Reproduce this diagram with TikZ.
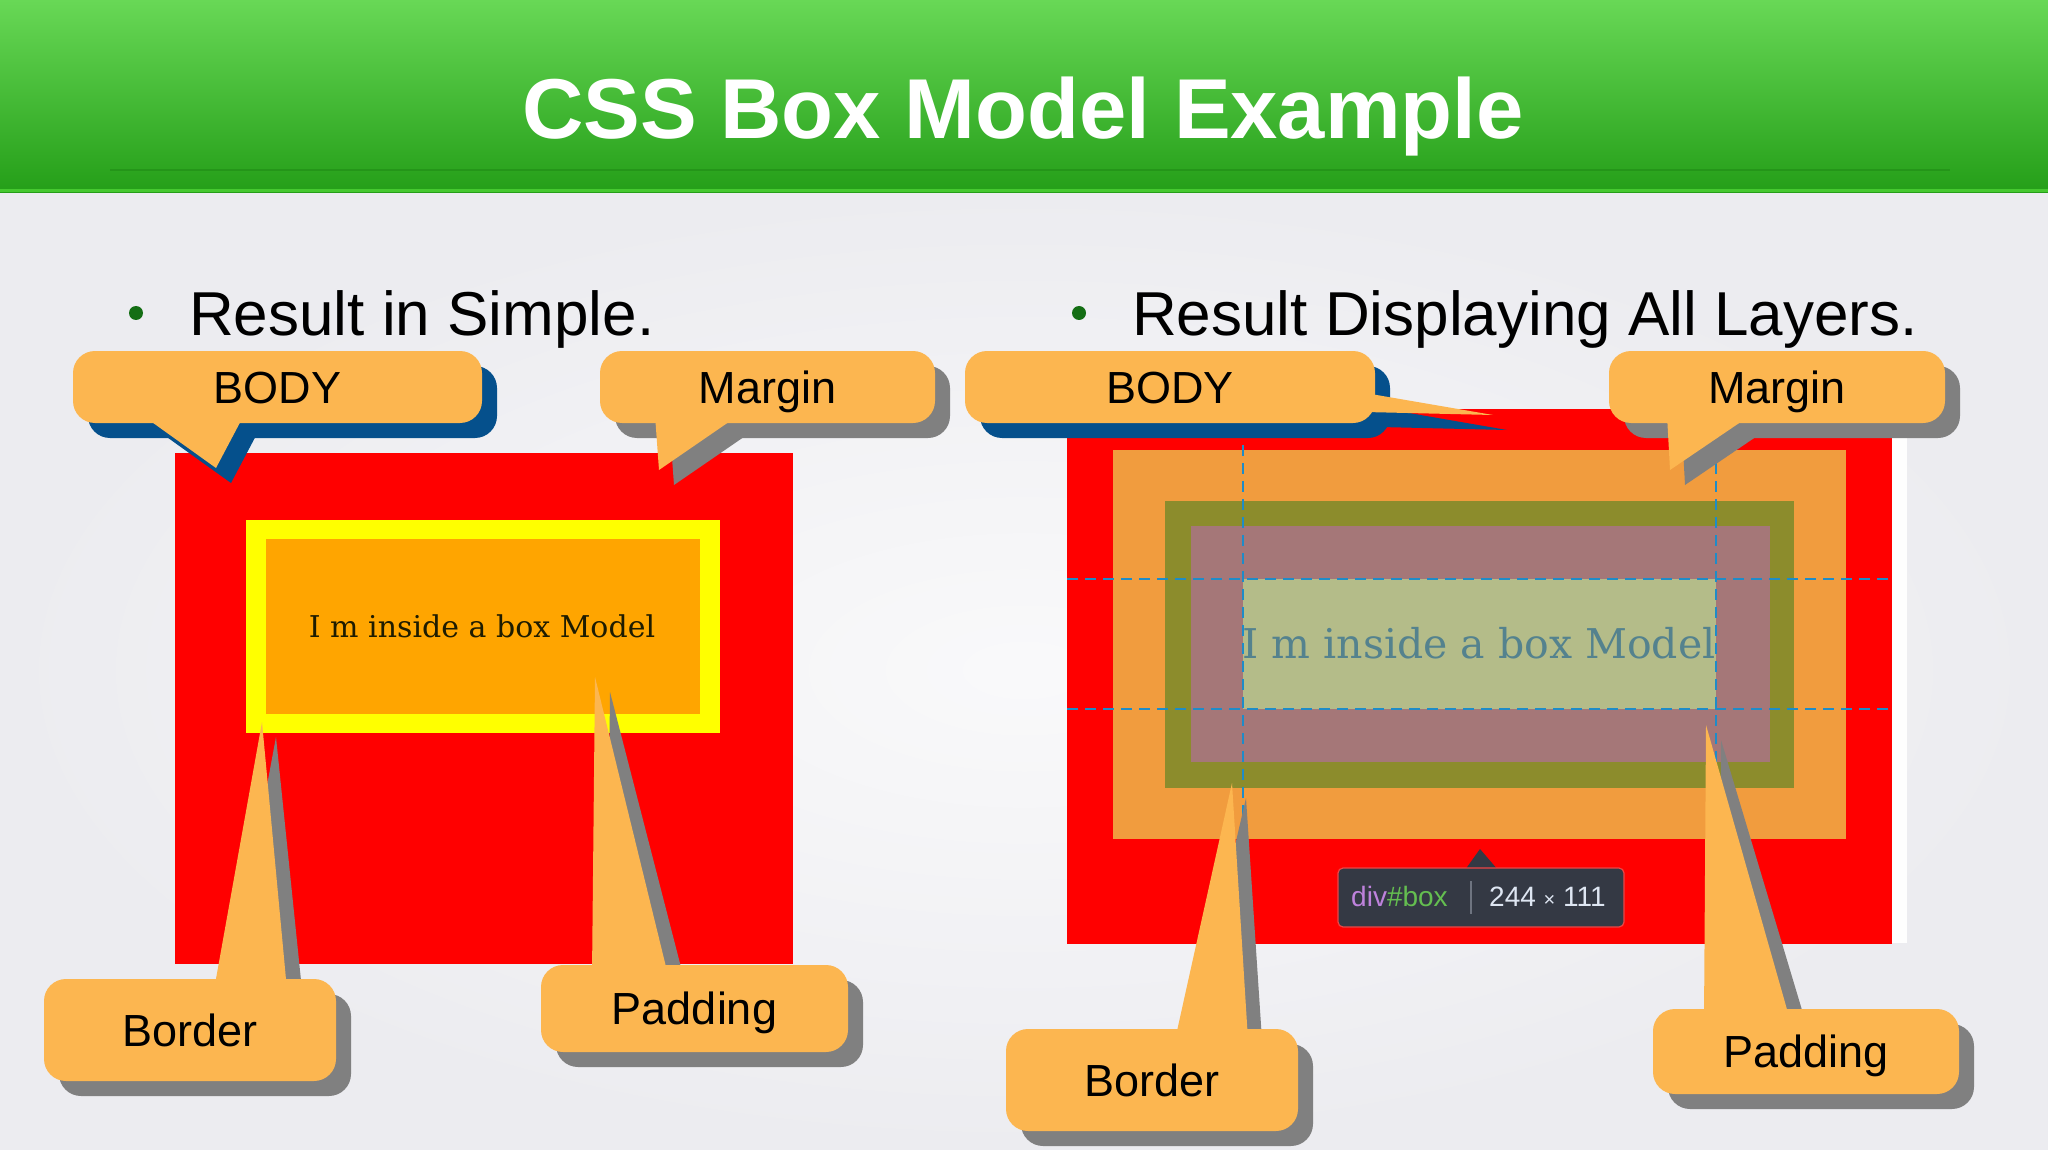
\documentclass[tikz,border=0pt]{standalone}
\usepackage{fontspec}
\setmainfont{Liberation Sans}
\newfontfamily\serifw{DejaVu Serif}
\definecolor{bgc}{RGB}{236,236,240}
\definecolor{hgA}{RGB}{104,216,86}
\definecolor{hgB}{RGB}{72,192,54}
\definecolor{hgC}{RGB}{36,158,24}
\definecolor{hline}{RGB}{30,135,20}
\definecolor{hedge}{RGB}{70,200,48}
\definecolor{bulg}{RGB}{20,110,20}
\definecolor{cssred}{RGB}{255,0,0}
\definecolor{cssyel}{RGB}{255,255,0}
\definecolor{cssorg}{RGB}{255,165,0}
\definecolor{mgc}{RGB}{241,156,62}
\definecolor{bdc}{RGB}{140,140,44}
\definecolor{pdc}{RGB}{165,119,120}
\definecolor{ctc}{RGB}{180,188,137}
\definecolor{dashc}{RGB}{30,140,200}
\definecolor{lefttxt}{RGB}{30,28,0}
\definecolor{righttxt}{RGB}{84,130,142}
\definecolor{calfill}{RGB}{252,182,80}
\definecolor{shgray}{RGB}{128,128,128}
\definecolor{shblue}{RGB}{5,80,140}
\definecolor{tipbg}{RGB}{52,57,68}
\definecolor{tipedge}{RGB}{235,70,70}
\definecolor{divc}{RGB}{190,130,220}
\definecolor{boxc}{RGB}{100,190,80}
\definecolor{numc}{RGB}{222,230,242}
\definecolor{sepc}{RGB}{110,116,128}
\begin{document}
\begin{tikzpicture}[x=1pt,y=-1pt,
  callout/.style={fill=calfill, rounded corners=22pt, inner sep=0pt,
    font=\fontsize{45}{54}\selectfont, text=black, text height=32pt, text depth=0pt},
  shadowbox/.style={rounded corners=22pt, inner sep=0pt},
  bullettext/.style={anchor=base west, inner sep=0pt, font=\fontsize{62}{70}\selectfont, text=black},
  dashline/.style={draw=dashc, line width=2.2pt, dash pattern=on 11pt off 7pt}
]
\useasboundingbox (0,0) rectangle (2048,1150);
% background
\fill[bgc] (0,190) rectangle (2048,1150);
\shade[inner color=white!70!bgc, outer color=bgc] (0,190) rectangle (2048,1150);
% header
\shade[top color=hgA, middle color=hgB, bottom color=hgC] (0,0) rectangle (2048,193);
\draw[hline, line width=2pt, opacity=0.5] (110,170) -- (1950,170);
\draw[hedge, line width=3pt] (0,191) -- (2048,191);
\node[anchor=base, inner sep=0pt, text=white, font=\bfseries\fontsize{85}{90}\selectfont] (title) at (1023,139) {CSS Box Model Example};

% bullets
\fill[bulg] (136,313) circle (7);
\node[bullettext] (b1) at (189,335) {Result in Simple.};
\fill[bulg] (1079,313) circle (7);
\node[bullettext] (b2) at (1132,335) {Result Displaying All Layers.};

% left box model
\fill[cssred] (175,453) rectangle (793,964);
\fill[cssyel] (246,520) rectangle (720,733);
\fill[cssorg] (266,539) rectangle (700,714);
\node[anchor=base, inner sep=0pt, text=lefttxt, font=\serifw\fontsize{30}{36}\selectfont] (t1) at (482,637) {I m inside a box Model};

% right box model
\fill[white!96!bgc] (1892,409) rectangle (1907,943);
\fill[cssred] (1067,409) rectangle (1892,944);
\fill[mgc] (1113,450) rectangle (1846,839);
\fill[bdc] (1165,501) rectangle (1794,788);
\fill[pdc] (1191,526) rectangle (1770,762);
\fill[ctc] (1243,579) rectangle (1716,709);
\node[anchor=base, inner sep=0pt, text=righttxt, font=\serifw\fontsize{41}{48}\selectfont] (t2) at (1479,658) {I m inside a box Model};
\draw[dashline] (1067,579) -- (1888,579);
\draw[dashline] (1067,709) -- (1888,709);
\draw[dashline] (1243,409) -- (1243,944);
\draw[dashline] (1716,409) -- (1716,944);

% tooltip
\fill[tipbg] (1465,870) -- (1480,849) -- (1498,870) -- cycle;
\node[fill=tipbg, draw=tipedge, line width=1.2pt, rounded corners=5pt, minimum width=286pt, minimum height=59pt, inner sep=0pt] (tip) at (1481,897.5) {};
\node[anchor=base west, inner sep=0pt, font=\fontsize{28}{32}\selectfont] (tipa) at (1351,906) {\textcolor{divc}{div}\textcolor{boxc}{\#box}};
\draw[sepc, line width=1.5pt] (1471,881) -- (1471,914);
\node[anchor=base west, inner sep=0pt, font=\fontsize{28}{32}\selectfont, text=numc] (tipb) at (1489,906) {244 {\fontsize{20}{22}\selectfont ×} 111};

% ---- callouts ----
% left BODY
\node[shadowbox, fill=shblue, minimum width=409pt, minimum height=72pt] at (292.5,402) {};
\fill[shblue] (157,430) -- (231,483) -- (259,430) -- cycle;
\fill[calfill] (142,415) -- (216,468) -- (244,415) -- cycle;
\node[callout, minimum width=409pt, minimum height=72pt] (bodyL) at (277.5,387) {BODY};
% left Margin
\node[shadowbox, fill=shgray, minimum width=335pt, minimum height=72pt] at (782.5,402) {};
\fill[shgray] (670,430) -- (674,485) -- (754,430) -- cycle;
\fill[calfill] (655,415) -- (659,470) -- (739,415) -- cycle;
\node[callout, minimum width=335pt, minimum height=72pt] (marginL) at (767.5,387) {Margin};
% left Border
\node[shadowbox, fill=shgray, minimum width=292pt, minimum height=102pt] at (205,1045) {};
\fill[shgray] (229,990) -- (276,737) -- (302,990) -- cycle;
\fill[calfill] (214,990) -- (262,722) -- (287,990) -- cycle;
\node[callout, minimum width=292pt, minimum height=102pt] (borderL) at (190,1030) {Border};
% left Padding
\node[shadowbox, fill=shgray, minimum width=307pt, minimum height=87pt] at (709.5,1023.5) {};
\fill[shgray] (607,975) -- (610,692) -- (683,975) -- cycle;
\fill[calfill] (592,975) -- (595,677) -- (668,975) -- cycle;
\node[callout, minimum width=307pt, minimum height=87pt] (paddingL) at (694.5,1008.5) {Padding};
% right BODY
\node[shadowbox, fill=shblue, minimum width=410pt, minimum height=72pt] at (1185,402) {};
\fill[shblue] (1380,408) -- (1507,430) -- (1380,427) -- cycle;
\fill[calfill] (1365,393) -- (1493,415) -- (1365,412) -- cycle;
\node[callout, minimum width=410pt, minimum height=72pt] (bodyR) at (1170,387) {BODY};
% right Margin
\node[shadowbox, fill=shgray, minimum width=336pt, minimum height=72pt] at (1792,402) {};
\fill[shgray] (1682,430) -- (1685,485) -- (1766,430) -- cycle;
\fill[calfill] (1667,415) -- (1670,470) -- (1751,415) -- cycle;
\node[callout, minimum width=336pt, minimum height=72pt] (marginR) at (1777,387) {Margin};
% right Border
\node[shadowbox, fill=shgray, minimum width=292pt, minimum height=102pt] at (1167,1095) {};
\fill[shgray] (1190,1040) -- (1246,798) -- (1262,1040) -- cycle;
\fill[calfill] (1175,1040) -- (1232,783) -- (1248,1040) -- cycle;
\node[callout, minimum width=292pt, minimum height=102pt] (borderR) at (1152,1080) {Border};
% right Padding
\node[shadowbox, fill=shgray, minimum width=306pt, minimum height=85pt] at (1821,1066.5) {};
\fill[shgray] (1719,1020) -- (1721,740) -- (1805,1020) -- cycle;
\fill[calfill] (1704,1020) -- (1706,725) -- (1790,1020) -- cycle;
\node[callout, minimum width=306pt, minimum height=85pt] (paddingR) at (1806,1051.5) {Padding};
\end{tikzpicture}
\end{document}
